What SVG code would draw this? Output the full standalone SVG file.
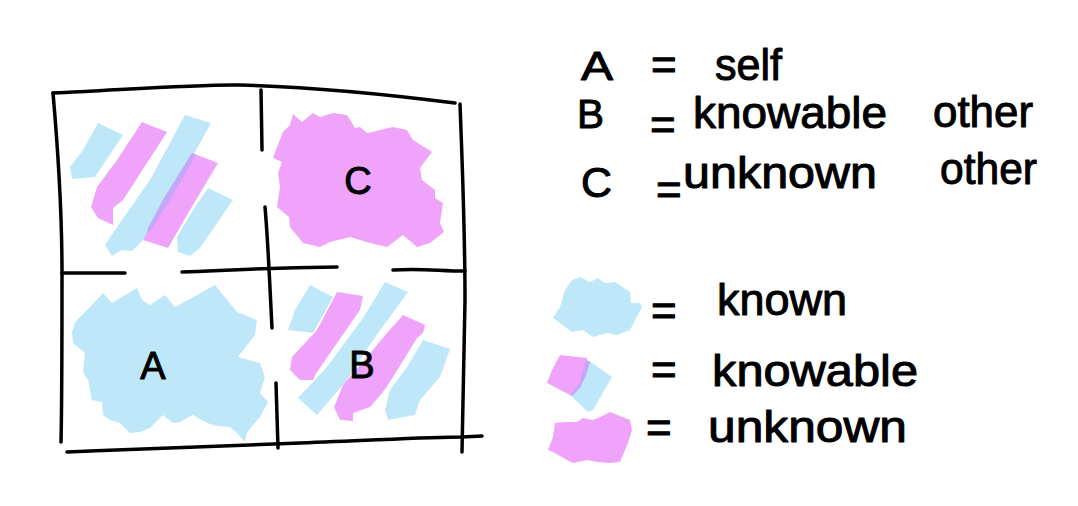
<svg xmlns="http://www.w3.org/2000/svg" width="1078" height="506" viewBox="0 0 1078 506">
<style>
.ln{fill:none;stroke:#000;stroke-width:3.5;stroke-linecap:round;stroke-linejoin:round}
.bl{fill:#bee8fa}
.pk{fill:#f0a0fa;opacity:0.97}
.tx{font-family:"Liberation Sans",Arial,sans-serif;fill:#000;stroke:#000;stroke-width:1;stroke-linejoin:round}
.lt{font-size:38px}
.ll{font-size:40px}
.eq{font-size:44px}
.lg{font-size:44px}
</style>
<rect width="1078" height="506" fill="#fff"/>
<g id="quadrant-tl">
<polygon class="bl" points="98,123 123,135 95,177 72,179 70,167 83,150"/>
<polygon class="pk" points="142,122 167,132 123,200 113,208 113,225 98,218 91,207 97,187 117,160"/>
<polygon class="bl" points="185,115 211,123 180,180 143,240 132,251 122,250 112,256 105,245 117,227 150,180"/>
<polygon class="pk" points="192,153 218,163 190,210 168,248 143,240 163,200"/>
<polygon fill="#c4a6fa" points="192,153 196,155 170,200 150,232 147,230 163,200"/>
<polygon class="bl" points="208,188 233,200 200,248 190,256 178,252 177,237 193,210"/>
</g>
<g id="quadrant-c">
<polygon class="pk" points="293,114 302,122 313,113 320,117 333,113 347,115 355,128 360,127 367,133 373,132 380,130 393,127 407,130 413,140 432,152 420,168 422,180 435,190 435,198 443,203 440,223 444,232 430,243 417,247 403,235 387,247 370,243 350,237 330,242 320,247 303,243 290,227 289,217 277,207 280,187 278,173 282,162 273,158 277,147 283,132 290,125"/>
<text class="tx lt" x="358" y="194" text-anchor="middle">C</text>
</g>
<g id="quadrant-a">
<polygon class="bl" points="103,293 112,303 137,288 142,300 150,305 165,295 175,307 215,285 237,312 257,320 255,335 238,357 260,363 265,377 260,393 268,402 260,417 253,425 247,433 245,442 237,433 230,427 217,426 207,423 193,415 180,422 173,423 163,415 150,428 140,432 130,433 120,423 110,420 103,415 102,402 92,400 88,380 83,372 85,353 73,343 72,332 75,322 90,307"/>
<text class="tx lt" x="153" y="379" text-anchor="middle">A</text>
</g>
<g id="quadrant-b">
<polygon class="bl" points="310,285 333,297 313,333 288,330 295,310"/>
<polygon class="pk" points="337,292 363,296 360,310 337,343 315,375 313,380 300,380 290,370 292,357 317,330"/>
<polygon class="bl" points="385,282 408,292 373,340 347,380 317,415 298,398 327,367 363,318"/>
<polygon class="pk" points="403,315 425,325 423,333 417,338 393,377 383,392 370,407 353,413 353,421 340,420 334,407 343,385 367,357 387,333"/>
<polygon class="bl" points="423,340 450,349 440,377 420,400 415,415 388,420 385,410 390,390 407,367"/>
<text class="tx lt" x="362" y="378" text-anchor="middle">B</text>
</g>
<g id="grid">
<path class="ln" d="M53,93 C120,90 200,84 240,85 C320,87 400,96 455,103"/>
<path class="ln" d="M53,93 C58,150 62,220 62,273 C62,340 62,400 61,442"/>
<path class="ln" d="M460,104 C463,180 465,260 465,300 C464,360 463,410 462,452"/>
<path class="ln" d="M67,452 C160,448 260,444 300,443 C380,440 430,437 462,437 L482,436"/>
<path class="ln" d="M261,90 L262,150"/>
<path class="ln" d="M265,207 C268,240 270,290 272,328"/>
<path class="ln" d="M276,383 L278,448"/>
<path class="ln" d="M62,273 L125,273"/>
<path class="ln" d="M182,272 C220,271 250,268 337,267"/>
<path class="ln" d="M393,270 C420,268 440,271 465,271"/>
</g>
<g id="legend-letters">
<text class="tx ll" x="581" y="80" textLength="32" lengthAdjust="spacingAndGlyphs">A</text>
<text class="tx eq" x="651" y="80">=</text>
<text class="tx lg" x="715" y="80" textLength="67" lengthAdjust="spacingAndGlyphs">self</text>
<text class="tx ll" x="577" y="128" textLength="27" lengthAdjust="spacingAndGlyphs">B</text>
<text class="tx eq" x="650" y="140">=</text>
<text class="tx lg" x="693" y="128" textLength="194" lengthAdjust="spacingAndGlyphs">knowable</text>
<text class="tx lg" x="933" y="127" textLength="100" lengthAdjust="spacingAndGlyphs">other</text>
<text class="tx" style="font-size:42px" x="581" y="197" textLength="31" lengthAdjust="spacingAndGlyphs">C</text>
<text class="tx eq" x="656" y="205">=</text>
<text class="tx lg" x="683" y="188" textLength="194" lengthAdjust="spacingAndGlyphs">unknown</text>
<text class="tx lg" x="940" y="184" textLength="97" lengthAdjust="spacingAndGlyphs">other</text>
</g>
<g id="legend-known">
<polygon class="bl" points="572,280 580,277 590,282 598,278 605,283 615,282 630,292 631,303 640,303 642,307 630,330 617,335 607,333 593,337 583,330 572,332 553,318 560,307 565,290"/>
<text class="tx eq" x="651" y="326">=</text>
<text class="tx lg" x="717" y="315" textLength="130" lengthAdjust="spacingAndGlyphs">known</text>
</g>
<g id="legend-knowable">
<polygon class="pk" points="560,355 587,358 588,370 580,390 570,395 547,383 552,370"/>
<polygon class="bl" points="588,360 612,377 593,410 588,412 570,395 580,388 585,370"/>
<polygon fill="#c4a6fa" points="586,360 590,362 586,375 580,388 572,396 570,395 580,383"/>
<text class="tx eq" x="651" y="385">=</text>
<text class="tx lg" x="712" y="386" textLength="206" lengthAdjust="spacingAndGlyphs">knowable</text>
</g>
<g id="legend-unknown">
<polygon class="pk" points="567,422 577,422 583,418 593,420 600,417 610,412 630,420 632,430 628,443 620,462 610,463 597,462 587,460 573,463 567,460 553,452 548,450 553,437 555,423"/>
<text class="tx eq" x="646" y="443">=</text>
<text class="tx lg" x="708" y="442" textLength="199" lengthAdjust="spacingAndGlyphs">unknown</text>
</g>
</svg>
